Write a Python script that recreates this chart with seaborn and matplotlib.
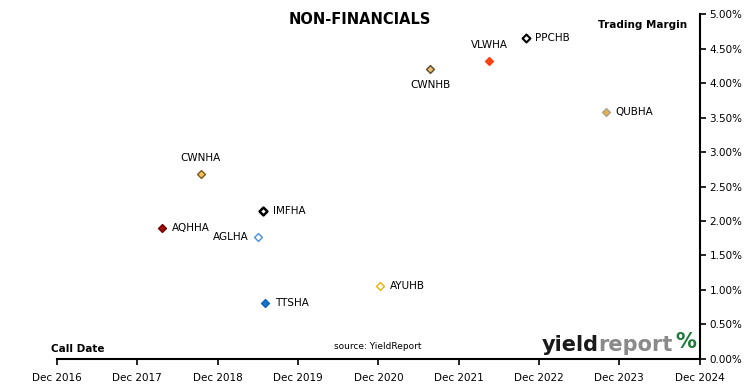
import pandas as pd
import seaborn as sns
import matplotlib
matplotlib.use('Agg')
import matplotlib.pyplot as plt
import matplotlib.dates as mdates
from matplotlib.ticker import FuncFormatter, MultipleLocator

# data
codes = ["CWNHA", "AQHHA", "IMFHA", "AGLHA", "TTSHA", "AYUHB", "CWNHB", "VLWHA", "PPCHB", "QUBHA"]
call_dates = ["2018-09-15", "2018-03-25", "2019-06-25", "2019-06-05", "2019-07-05",
              "2020-12-10", "2021-07-25", "2022-04-20", "2022-10-01", "2023-10-01"]
margins = [2.68, 1.90, 2.14, 1.77, 0.81, 1.06, 4.20, 4.32, 4.65, 3.58]
x_ticks = ["2016-12-01", "2017-12-01", "2018-12-01", "2019-12-01", "2020-12-01",
           "2021-12-01", "2022-12-01", "2023-12-01", "2024-12-01"]

df = pd.DataFrame({"Code": codes, "CallDate": pd.to_datetime(call_dates), "Margin": margins})

face = {"CWNHA": "#F5C35A", "AQHHA": "#A01010", "IMFHA": "white", "AGLHA": "white",
        "TTSHA": "#1874CD", "AYUHB": "white", "CWNHB": "#E8C070", "VLWHA": "#FF4010",
        "PPCHB": "white", "QUBHA": "#E8B040"}
edge = {"CWNHA": "#7A5A20", "AQHHA": "#700000", "IMFHA": "black", "AGLHA": "#4A90E2",
        "TTSHA": "#1060B0", "AYUHB": "#F0B000", "CWNHB": "#5A4A30", "VLWHA": "#FF4010",
        "PPCHB": "black", "QUBHA": "#B0A090"}
lw = {"IMFHA": 1.8, "PPCHB": 1.5}

# label offsets (points) and alignment
label_pos = {"CWNHA": (0, 8, "center", "bottom"), "CWNHB": (0, -8, "center", "top"),
             "VLWHA": (0, 8, "center", "bottom"), "AGLHA": (-7, 0, "right", "center")}

sns.set_theme(style="white")
plt.rcParams['font.family'] = ['DejaVu Sans']
plt.rcParams['text.color'] = 'black'

fig = plt.figure(figsize=(7.5, 3.91), dpi=100)
ax = fig.add_axes([0.076, 0.082, 0.857, 0.882])

for code in codes:
    sub = df[df["Code"] == code]
    sns.scatterplot(data=sub, x="CallDate", y="Margin", marker="D", s=16,
                    color=face[code], edgecolor=edge[code], linewidth=lw.get(code, 1.0),
                    ax=ax, zorder=3, legend=False)
    dx, dy, ha, va = label_pos.get(code, (7, 0, "left", "center"))
    row = sub.iloc[0]
    ax.annotate(code, xy=(row["CallDate"], row["Margin"]), xytext=(dx, dy),
                textcoords="offset points", ha=ha, va=va, fontsize=7.5, color="black")

tick_dates = pd.to_datetime(x_ticks)
ax.set_xlim(tick_dates[0], tick_dates[-1])
ax.set_ylim(0, 5)
ax.set_xticks(tick_dates)
ax.xaxis.set_major_formatter(mdates.DateFormatter("%b %Y"))
ax.yaxis.set_major_locator(MultipleLocator(0.5))
ax.yaxis.set_major_formatter(FuncFormatter(lambda v, p: f"{v:.2f}%"))
ax.yaxis.tick_right()
ax.set_xlabel("")
ax.set_ylabel("")

for s in ["top", "left"]:
    ax.spines[s].set_visible(False)
for s in ["bottom", "right"]:
    ax.spines[s].set_color("black")
    ax.spines[s].set_linewidth(1.5)
ax.tick_params(axis="both", direction="out", length=4, width=1.2, colors="black",
               labelsize=7.5, bottom=True, right=True)
ax.tick_params(axis="x", pad=6)
ax.tick_params(axis="y", pad=3)
ax.grid(False)

fig.text(0.48, 0.95, "NON-FINANCIALS", ha="center", va="center", fontsize=10.5,
         fontweight="bold")
fig.text(0.857, 0.936, "Trading Margin", ha="center", va="center", fontsize=7.5,
         fontweight="bold")
fig.text(0.068, 0.108, "Call Date", ha="left", va="center", fontsize=7.5, fontweight="bold")
fig.text(0.504, 0.115, "source: YieldReport", ha="center", va="center", fontsize=6.5)

# logo text
t1 = fig.text(0.722, 0.118, "yield", ha="left", va="center", fontsize=15, fontweight="bold",
              color="#1A1A1A")
fig.canvas.draw()
bb = t1.get_window_extent()
inv = fig.transFigure.inverted()
x2 = inv.transform((bb.x1, bb.y0))[0]
t2 = fig.text(x2, 0.118, "report", ha="left", va="center", fontsize=15, fontweight="bold",
              color="#8A8A8A")
fig.canvas.draw()
bb2 = t2.get_window_extent()
x3 = inv.transform((bb2.x1, bb2.y0))[0] + 0.004
fig.text(x3, 0.125, "%", ha="left", va="center", fontsize=15, fontweight="bold",
         color="#1E7A3A")

fig.savefig("out.png", dpi=100, facecolor="white")
